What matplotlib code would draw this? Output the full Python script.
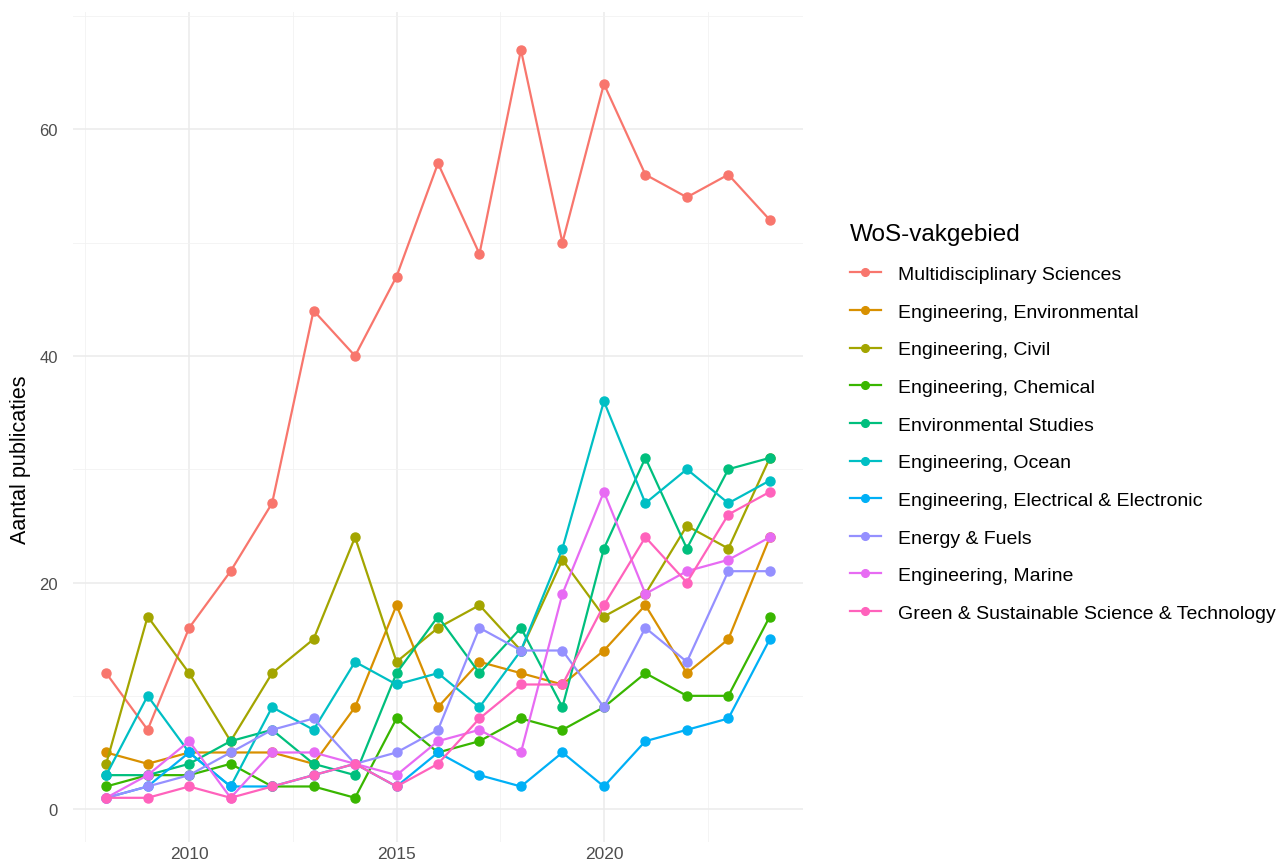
import matplotlib
matplotlib.use("Agg")
import matplotlib.pyplot as plt
from matplotlib.ticker import MultipleLocator

plt.rcParams['font.family'] = ['Liberation Sans', 'DejaVu Sans']

years = list(range(2008, 2025))

categories = [
    "Multidisciplinary Sciences",
    "Engineering, Environmental",
    "Engineering, Civil",
    "Engineering, Chemical",
    "Environmental Studies",
    "Engineering, Ocean",
    "Engineering, Electrical & Electronic",
    "Energy & Fuels",
    "Engineering, Marine",
    "Green & Sustainable Science & Technology",
]

multidisciplinary = [12, 7, 16, 21, 27, 44, 40, 47, 57, 49, 67, 50, 64, 56, 54, 56, 52]
eng_environmental = [5, 4, 5, 5, 5, 4, 9, 18, 9, 13, 12, 11, 14, 18, 12, 15, 24]
eng_civil = [4, 17, 12, 6, 12, 15, 24, 13, 16, 18, 14, 22, 17, 19, 25, 23, 31]
eng_chemical = [2, 3, 3, 4, 2, 2, 1, 8, 5, 6, 8, 7, 9, 12, 10, 10, 17]
env_studies = [3, 3, 4, 6, 7, 4, 3, 12, 17, 12, 16, 9, 23, 31, 23, 30, 31]
eng_ocean = [3, 10, 5, 2, 9, 7, 13, 11, 12, 9, 14, 23, 36, 27, 30, 27, 29]
eng_electrical = [1, 2, 5, 2, 2, 3, 4, 2, 5, 3, 2, 5, 2, 6, 7, 8, 15]
energy_fuels = [1, 2, 3, 5, 7, 8, 4, 5, 7, 16, 14, 14, 9, 16, 13, 21, 21]
eng_marine = [1, 3, 6, 1, 5, 5, 4, 3, 6, 7, 5, 19, 28, 19, 21, 22, 24]
green_sustainable = [1, 1, 2, 1, 2, 3, 4, 2, 4, 8, 11, 11, 18, 24, 20, 26, 28]

series = [multidisciplinary, eng_environmental, eng_civil, eng_chemical, env_studies,
          eng_ocean, eng_electrical, energy_fuels, eng_marine, green_sustainable]

colors = ["#F8766D", "#D89000", "#A3A500", "#39B600", "#00BF7D",
          "#00BFC4", "#00B0F6", "#9590FF", "#E76BF3", "#FF62BC"]

W, H = 1283, 862
fig = plt.figure(figsize=(W / 100, H / 100), dpi=100)
left, right, bottom, top = 73, 803, 843, 13
ax = fig.add_axes([left / W, 1 - bottom / H, (right - left) / W, (bottom - top) / H])

for name, vals, c in zip(categories, series, colors):
    ax.plot(years, vals, color=c, lw=1.6, marker='o', ms=6.5, mec=c, mfc=c,
            label=name, solid_joinstyle='round')

ax.set_xlim(2007.2, 2024.8)
ax.set_ylim(-2.9, 70.35)
ax.xaxis.set_major_locator(MultipleLocator(5))
ax.xaxis.set_minor_locator(MultipleLocator(2.5))
ax.yaxis.set_major_locator(MultipleLocator(20))
ax.yaxis.set_minor_locator(MultipleLocator(10))
ax.grid(which='major', color='#EBEBEB', lw=1.1)
ax.grid(which='minor', color='#F2F2F2', lw=0.6)
ax.set_axisbelow(True)
for s in ax.spines.values():
    s.set_visible(False)
ax.tick_params(which='both', length=0)
ax.tick_params(axis='x', labelsize=12.5, labelcolor='#4D4D4D', pad=3)
ax.tick_params(axis='y', labelsize=12, labelcolor='#4D4D4D', pad=11)
ax.set_ylabel("Aantal publicaties", fontsize=15.5, color='black')
ax.yaxis.set_label_coords(-0.057, 0.462)

leg = ax.legend(loc='upper left', bbox_to_anchor=(832 / W, 1 - 207 / H),
                bbox_transform=fig.transFigure, frameon=False,
                title="WoS-vakgebied", title_fontsize=17.5, fontsize=14.0,
                handlelength=1.6, handletextpad=0.92, labelspacing=1.03,
                alignment='left', markerscale=0.85)

fig.savefig("out.png", dpi=100, facecolor='white')
